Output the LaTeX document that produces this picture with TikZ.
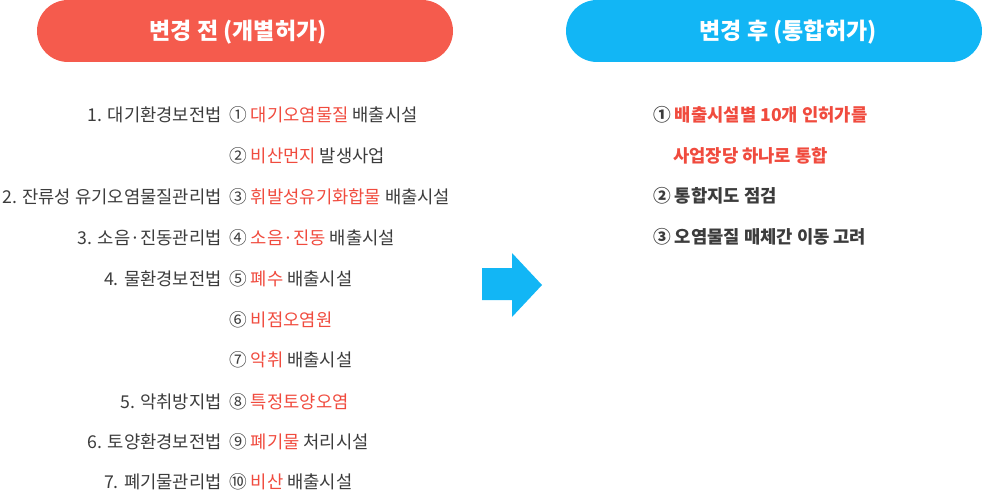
\documentclass[tikz,border=0pt]{standalone}
\usepackage{fontspec}
\setmainfont{Noto Sans CJK KR}
\definecolor{pillred}{HTML}{F55B4D}
\definecolor{pillblue}{HTML}{12B6F5}
\definecolor{txtgray}{HTML}{3C3C3C}
\definecolor{txtred}{HTML}{F04B3E}
\tikzset{
  pill/.style={rounded corners=31pt, minimum width=416pt, minimum height=62pt, inner sep=0pt, draw=none},
  pilltext/.style={text=white, font=\fontsize{23}{27}\selectfont\bfseries, inner sep=0pt},
  lawtext/.style={text=txtgray, font=\fontsize{17.7}{21}\selectfont, inner sep=0pt, anchor=base east},
  itemtext/.style={text=txtgray, font=\fontsize{17.7}{21}\selectfont, inner sep=0pt, anchor=base west},
  newtext/.style={text=txtgray, font=\fontsize{17.7}{21}\selectfont\bfseries, inner sep=0pt, anchor=base west},
}
\newcommand{\hl}[1]{\textcolor{txtred}{#1}}
\begin{document}
\begin{tikzpicture}[x=1pt,y=-1pt]
\useasboundingbox (0,0) rectangle (982,497);
% title pills
\node[pill, fill=pillred] (before) at (245,31) {};
\node[pilltext] (beforetitle) at (238,32) {변경 전 (개별허가)};
\node[pill, fill=pillblue] (after) at (774,31) {};
\node[pilltext] (aftertitle) at (788,32) {변경 후 (통합허가)};
% left column: laws
\def\bl{6}
\node[lawtext] (law1) at (222,116+\bl) {1. 대기환경보전법};
\node[lawtext] (law2) at (222,198+\bl) {2. 잔류성 유기오염물질관리법};
\node[lawtext] (law3) at (222,238+\bl) {3. 소음·진동관리법};
\node[lawtext] (law4) at (222,279+\bl) {4. 물환경보전법};
\node[lawtext] (law5) at (222,402+\bl) {5. 악취방지법};
\node[lawtext] (law6) at (222,442+\bl) {6. 토양환경보전법};
\node[lawtext] (law7) at (222,482+\bl) {7. 폐기물관리법};
% left column: facilities
\node[itemtext] (item1) at (229,116+\bl) {① \hl{대기오염물질} 배출시설};
\node[itemtext] (item2) at (229,157+\bl) {② \hl{비산먼지} 발생사업};
\node[itemtext] (item3) at (229,198+\bl) {③ \hl{휘발성유기화합물} 배출시설};
\node[itemtext] (item4) at (229,238+\bl) {④ \hl{소음·진동} 배출시설};
\node[itemtext] (item5) at (229,279+\bl) {⑤ \hl{폐수} 배출시설};
\node[itemtext] (item6) at (229,320+\bl) {⑥ \hl{비점오염원}};
\node[itemtext] (item7) at (229,360+\bl) {⑦ \hl{악취} 배출시설};
\node[itemtext] (item8) at (229,402+\bl) {⑧ \hl{특정토양오염}};
\node[itemtext] (item9) at (229,442+\bl) {⑨ \hl{폐기물} 처리시설};
\node[itemtext] (item10) at (229,482+\bl) {⑩ \hl{비산} 배출시설};
% arrow
\fill[pillblue] (482,268) -- (512,268) -- (512,253) -- (542,285) -- (512,317) -- (512,300) -- (482,300) -- cycle;
% right column
\node[newtext] (new1) at (653,116+\bl) {① \hl{배출시설별 10개 인허가를}};
\node[newtext] (new1b) at (673,157+\bl) {\hl{사업장당 하나로 통합}};
\node[newtext] (new2) at (653,197+\bl) {② 통합지도 점검};
\node[newtext] (new3) at (653,237+\bl) {③ 오염물질 매체간 이동 고려};
\end{tikzpicture}
\end{document}
